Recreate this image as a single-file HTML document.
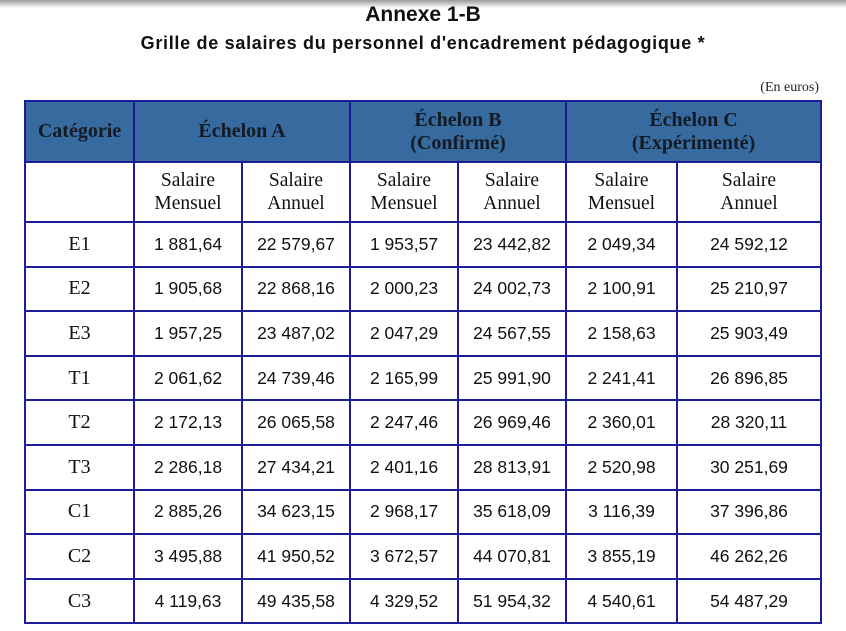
<!DOCTYPE html>
<html><head><meta charset="utf-8"><style>
body{margin:0;width:846px;height:631px;background:#fff;position:relative;overflow:hidden;font-family:"Liberation Sans",sans-serif}
.shadow{position:absolute;left:0;top:0;width:846px;height:8px;background:linear-gradient(#9a9a9a,#fff)}
.t1{position:absolute;left:0;width:846px;text-align:center;top:3px;font-weight:bold;font-size:21px;color:#111;letter-spacing:0px}
.t2{position:absolute;left:0;width:846px;text-align:center;top:33px;font-weight:bold;font-size:18px;color:#111;letter-spacing:0.7px}
.eu{position:absolute;right:27px;top:80px;font-family:"Liberation Serif",serif;font-size:14px;color:#222}
table{position:absolute;left:24px;top:100px;border-collapse:collapse;table-layout:fixed}
td{border:2px solid #1c1c96;text-align:center;padding:0;color:#111}
.h td{background:#376a9f;font-family:"Liberation Serif",serif;font-weight:bold;font-size:20px;line-height:23px;height:59px;color:#141a24}
.s td{font-family:"Liberation Serif",serif;font-size:19.5px;line-height:23px;height:58px}
.r td{font-size:17.5px;height:42.6px}
.r td:first-child{font-family:"Liberation Serif",serif;font-size:20px}
</style></head><body>
<div class="shadow"></div>
<div class="t1">Annexe 1-B</div>
<div class="t2">Grille de salaires du personnel d'encadrement pédagogique *</div>
<div class="eu">(En euros)</div>
<table>
<colgroup><col style="width:109px"><col style="width:108px"><col style="width:108px"><col style="width:108px"><col style="width:108px"><col style="width:111px"><col style="width:144px"></colgroup>
<tr class="h"><td>Catégorie</td><td colspan="2">Échelon A</td><td colspan="2">Échelon B<br>(Confirmé)</td><td colspan="2">Échelon C<br>(Expérimenté)</td></tr>
<tr class="s"><td></td><td>Salaire<br>Mensuel</td><td>Salaire<br>Annuel</td><td>Salaire<br>Mensuel</td><td>Salaire<br>Annuel</td><td>Salaire<br>Mensuel</td><td>Salaire<br>Annuel</td></tr>
<tr class="r"><td>E1</td><td>1 881,64</td><td>22 579,67</td><td>1 953,57</td><td>23 442,82</td><td>2 049,34</td><td>24 592,12</td></tr>
<tr class="r"><td>E2</td><td>1 905,68</td><td>22 868,16</td><td>2 000,23</td><td>24 002,73</td><td>2 100,91</td><td>25 210,97</td></tr>
<tr class="r"><td>E3</td><td>1 957,25</td><td>23 487,02</td><td>2 047,29</td><td>24 567,55</td><td>2 158,63</td><td>25 903,49</td></tr>
<tr class="r"><td>T1</td><td>2 061,62</td><td>24 739,46</td><td>2 165,99</td><td>25 991,90</td><td>2 241,41</td><td>26 896,85</td></tr>
<tr class="r"><td>T2</td><td>2 172,13</td><td>26 065,58</td><td>2 247,46</td><td>26 969,46</td><td>2 360,01</td><td>28 320,11</td></tr>
<tr class="r"><td>T3</td><td>2 286,18</td><td>27 434,21</td><td>2 401,16</td><td>28 813,91</td><td>2 520,98</td><td>30 251,69</td></tr>
<tr class="r"><td>C1</td><td>2 885,26</td><td>34 623,15</td><td>2 968,17</td><td>35 618,09</td><td>3 116,39</td><td>37 396,86</td></tr>
<tr class="r"><td>C2</td><td>3 495,88</td><td>41 950,52</td><td>3 672,57</td><td>44 070,81</td><td>3 855,19</td><td>46 262,26</td></tr>
<tr class="r"><td>C3</td><td>4 119,63</td><td>49 435,58</td><td>4 329,52</td><td>51 954,32</td><td>4 540,61</td><td>54 487,29</td></tr>
</table>
</body></html>
